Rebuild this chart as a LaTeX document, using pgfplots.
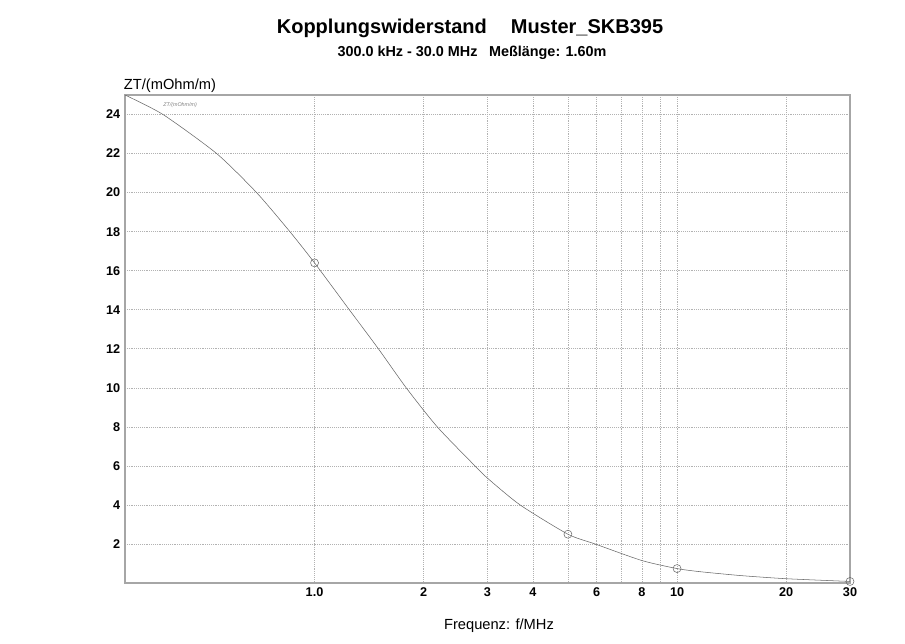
\documentclass[border=0pt]{standalone}
\usepackage{pgfplots}
\pgfplotsset{compat=1.18}
\usepackage{fontspec}
\setmainfont{Liberation Sans}
\begin{document}
\begin{tikzpicture}
\path[use as bounding box] (-93.75pt,-45pt) rectangle (585pt,437.25pt);
\begin{axis}[
    at={(0,0)}, anchor=south west,
    scale only axis,
    width=543.75pt, height=366pt,
    xmode=log,
    xmin=0.3, xmax=30,
    ymin=0, ymax=25,
    xtick={1,2,3,4,6,8,10,20,30},
    xticklabels={1.0,2,3,4,6,8,10,20,30},
    minor xtick={5,7,9},
    ytick={2,4,...,24},
    major tick length=0pt, minor tick length=0pt,
    xmajorgrids, xminorgrids, ymajorgrids,
    grid style={densely dotted, gray!60},
    minor grid style={densely dotted, gray!60},
    axis line style={gray!70, line width=1pt},
    tick label style={font=\bfseries\fontsize{9.5}{11}\selectfont},
    /pgf/number format/assume math mode=true,
    clip=false,
]
\addplot[gray!80!black, thin, smooth, tension=0.4] coordinates {
    (0.3,25.0) (0.382,24.0) (0.537,22.0) (0.692,20.0) (0.855,18.0)
    (1.0,16.4) (1.247,14.0) (1.50,12.0) (1.79,10.0) (2.18,8.0)
    (2.77,6.0) (3.0,5.37) (3.69,4.0) (5.0,2.5) (5.94,2.0)
    (8.0,1.15) (10.0,0.74) (11.57,0.58) (15.0,0.38) (20.0,0.22) (30.0,0.08)
};
\addplot[only marks, mark=o, mark size=3pt, gray!80!black, thin] coordinates {
    (1.0,16.4) (5.0,2.5) (10.0,0.74) (30.0,0.08)
};
\node[font=\itshape\fontsize{4}{5}\selectfont, text=gray] at (rel axis cs:0.076,0.98) {ZT/(mOhm/m)};
\end{axis}
\node[font=\bfseries\fontsize{15}{17}\selectfont] at (258.75pt,416.25pt) {Kopplungswiderstand\hspace{1.2em}Muster\_SKB395};
\node[font=\bfseries\fontsize{10.8}{12}\selectfont] at (260.25pt,397.5pt) {300.0 kHz - 30.0 MHz\hspace{0.8em}Meßlänge: 1.60m};
\node[anchor=west, font=\fontsize{11}{13}\selectfont, inner sep=0pt] at (-1pt,372.75pt) {ZT/(mOhm/m)};
\node[font=\fontsize{11}{13}\selectfont] at (280.5pt,-32.25pt) {Frequenz: f/MHz};
\end{tikzpicture}
\end{document}
